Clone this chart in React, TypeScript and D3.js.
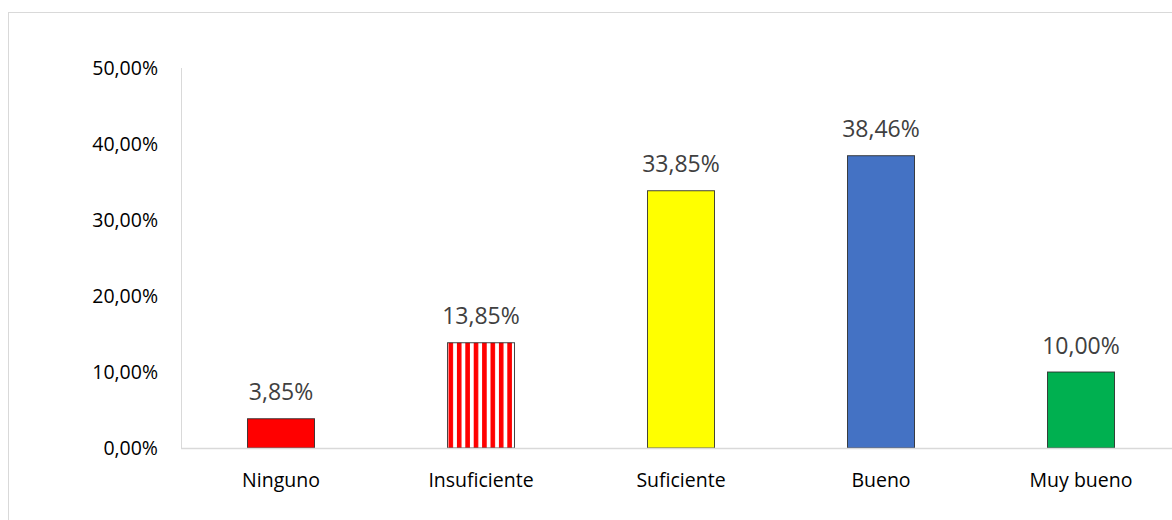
import React from "react";
import * as d3 from "d3";

const categories = ["Ninguno", "Insuficiente", "Suficiente", "Bueno", "Muy bueno"];
const values = [3.85, 13.85, 33.85, 38.46, 10.0];
const colors = ["#FF0000", "url(#stripes)", "#FFFF00", "#4472C4", "#00B050"];
const yTicks = [0, 10, 20, 30, 40, 50];

const W = 1172;
const H = 520;
const FONT = "'Open Sans', sans-serif";

const fmt = (v: number) => v.toFixed(2).replace(".", ",") + "%";

export default function App() {
  const x = d3
    .scaleBand<string>()
    .domain(categories)
    .range([181, 1181])
    .paddingInner(0.665)
    .paddingOuter(0.3325);
  const y = d3.scaleLinear().domain([0, 50]).range([448, 68]);

  return (
    <div style={{ position: "absolute", left: 0, top: 0 }}>
      <svg width={W} height={H} style={{ display: "block", background: "#fff" }}>
        <defs>
          <pattern id="stripes" patternUnits="userSpaceOnUse" width={8.4} height={10} x={x("Insuficiente")! + 1}>
            <rect x={0} y={0} width={8.4} height={10} fill="#fff" />
            <rect x={0} y={0} width={4.6} height={10} fill="#FF0000" />
          </pattern>
        </defs>
        <rect x={8.5} y={12.5} width={1300} height={600} fill="none" stroke="#d9d9d9" strokeWidth={1} />
        {/* y axis line */}
        <line x1={181.5} x2={181.5} y1={y(50)} y2={y(0)} stroke="#d9d9d9" strokeWidth={1} />
        {yTicks.map((t) => (
          <text
            key={t}
            x={158}
            y={y(t)}
            dy="0.36em"
            textAnchor="end"
            fontFamily={FONT}
            fontSize={19.5}
            fill="#000"
          >
            {fmt(t)}
          </text>
        ))}
        {categories.map((c, i) => (
          <g key={c}>
            <rect
              x={x(c)!}
              y={y(values[i])}
              width={x.bandwidth()}
              height={y(0) - y(values[i])}
              fill={colors[i]}
              stroke="#262626"
              strokeOpacity={0.85}
              strokeWidth={1}
            />
            <text
              x={x(c)! + x.bandwidth() / 2}
              y={y(values[i]) - 18.5}
              textAnchor="middle"
              fontFamily={FONT}
              fontSize={23}
              fill="#404040"
            >
              {fmt(values[i])}
            </text>
            <text
              x={x(c)! + x.bandwidth() / 2}
              y={487}
              textAnchor="middle"
              fontFamily={FONT}
              fontSize={19.5}
              fill="#000"
            >
              {c}
            </text>
          </g>
        ))}
        {/* x axis line */}
        <line x1={181} x2={1181} y1={448.5} y2={448.5} stroke="#d9d9d9" strokeWidth={1.5} />
      </svg>
    </div>
  );
}
